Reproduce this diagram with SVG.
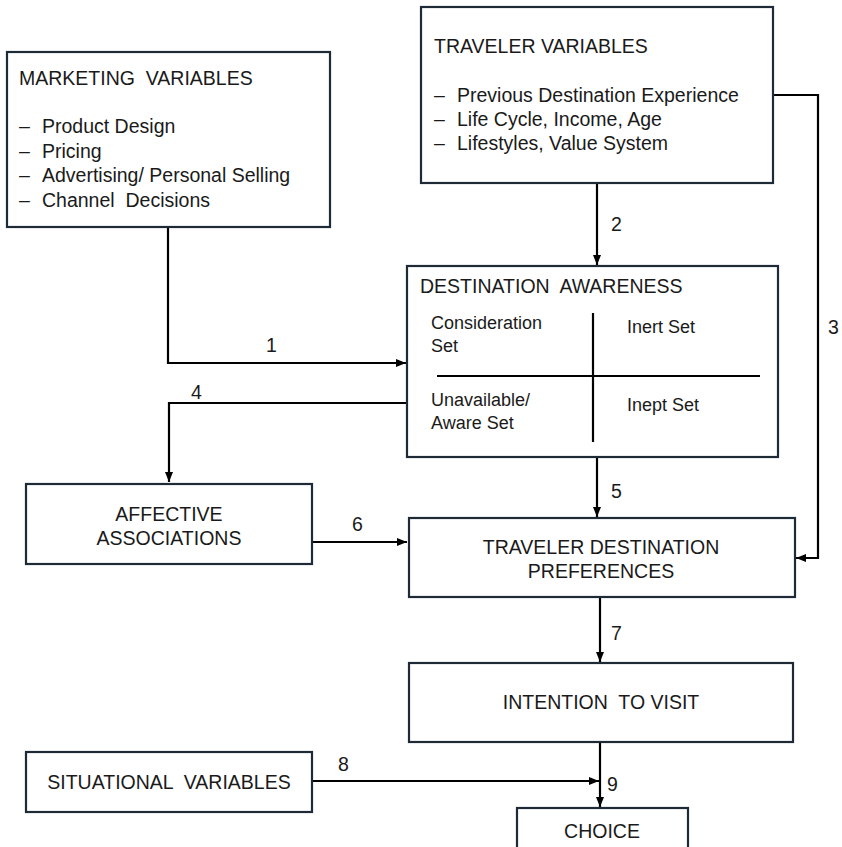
<svg xmlns="http://www.w3.org/2000/svg" width="842" height="847" viewBox="0 0 842 847">
<style>
.box{fill:#fff;stroke:#1e2b36;stroke-width:2.2}
.t{font-family:"Liberation Sans",Arial,sans-serif;font-size:19.5px;fill:#1a1a1a;white-space:pre}
.c{text-anchor:middle}
.ln{fill:none;stroke:#000;stroke-width:2.2}
</style>
<defs>
<marker id="ah" viewBox="0 0 10 8" refX="10" refY="4" markerWidth="10" markerHeight="8" markerUnits="userSpaceOnUse" orient="auto">
<path d="M0,0 L10,4 L0,8 z" fill="#000"/>
</marker>
</defs>
<rect width="842" height="847" fill="#fff"/>
<g id="connectors">
<polyline class="ln" points="168,227 168,363 406,363" marker-end="url(#ah)"/>
<polyline class="ln" points="597,183 597,265" marker-end="url(#ah)"/>
<polyline class="ln" points="773,95 818,95 818,558 796,558" marker-end="url(#ah)"/>
<polyline class="ln" points="407,403 169,403 169,482" marker-end="url(#ah)"/>
<polyline class="ln" points="597,457 597,517" marker-end="url(#ah)"/>
<polyline class="ln" points="312,542 407,542" marker-end="url(#ah)"/>
<polyline class="ln" points="600,597 600,662" marker-end="url(#ah)"/>
<polyline class="ln" points="312,781 599,781" marker-end="url(#ah)"/>
<polyline class="ln" points="600,742 600,807" marker-end="url(#ah)"/>
<text class="t" x="266" y="352">1</text>
<text class="t" x="611" y="231">2</text>
<text class="t" x="828" y="334">3</text>
<text class="t" x="191" y="399">4</text>
<text class="t" x="611" y="498">5</text>
<text class="t" x="352" y="531">6</text>
<text class="t" x="611" y="640">7</text>
<text class="t" x="338" y="771">8</text>
<text class="t" x="607" y="791">9</text>
</g>
<g id="marketing">
<rect class="box" x="7" y="52" width="323" height="175"/>
<text class="t" x="19" y="85">MARKETING  VARIABLES</text>
<text class="t" x="19" y="133">–</text><text class="t" x="42" y="133">Product Design</text>
<text class="t" x="19" y="158">–</text><text class="t" x="42" y="158">Pricing</text>
<text class="t" x="19" y="182">–</text><text class="t" x="42" y="182">Advertising/ Personal Selling</text>
<text class="t" x="19" y="207">–</text><text class="t" x="42" y="207">Channel  Decisions</text>
</g>
<g id="traveler">
<rect class="box" x="421" y="7" width="352" height="176"/>
<text class="t" x="434" y="53">TRAVELER VARIABLES</text>
<text class="t" x="434" y="102">–</text><text class="t" x="457" y="102">Previous Destination Experience</text>
<text class="t" x="434" y="126">–</text><text class="t" x="457" y="126">Life Cycle, Income, Age</text>
<text class="t" x="434" y="150">–</text><text class="t" x="457" y="150">Lifestyles, Value System</text>
</g>
<g id="awareness">
<rect class="box" x="407" y="266" width="371" height="191"/>
<text class="t" x="420" y="293">DESTINATION  AWARENESS</text>
<line class="ln" x1="593" y1="313" x2="593" y2="442"/>
<line class="ln" x1="437" y1="376" x2="760" y2="376"/>
<text class="t" x="431" y="329" style="font-size:18px">Consideration</text>
<text class="t" x="431" y="352" style="font-size:18px">Set</text>
<text class="t" x="627" y="333" style="font-size:18px">Inert Set</text>
<text class="t" x="431" y="406" style="font-size:18px">Unavailable/</text>
<text class="t" x="431" y="429" style="font-size:18px">Aware Set</text>
<text class="t" x="627" y="411" style="font-size:18px">Inept Set</text>
</g>
<g id="affective">
<rect class="box" x="26" y="484" width="286" height="80"/>
<text class="t c" x="169" y="521">AFFECTIVE</text>
<text class="t c" x="169" y="545">ASSOCIATIONS</text>
</g>
<g id="preferences">
<rect class="box" x="409" y="518" width="386" height="79"/>
<text class="t c" x="601" y="554">TRAVELER DESTINATION</text>
<text class="t c" x="601" y="578">PREFERENCES</text>
</g>
<g id="intention">
<rect class="box" x="409" y="663" width="384" height="79"/>
<text class="t c" x="601" y="709">INTENTION  TO VISIT</text>
</g>
<g id="situational">
<rect class="box" x="26" y="752" width="286" height="60"/>
<text class="t c" x="169" y="789">SITUATIONAL  VARIABLES</text>
</g>
<g id="choice">
<rect class="box" x="517" y="808" width="171" height="50"/>
<text class="t c" x="602" y="838">CHOICE</text>
</g>
</svg>
